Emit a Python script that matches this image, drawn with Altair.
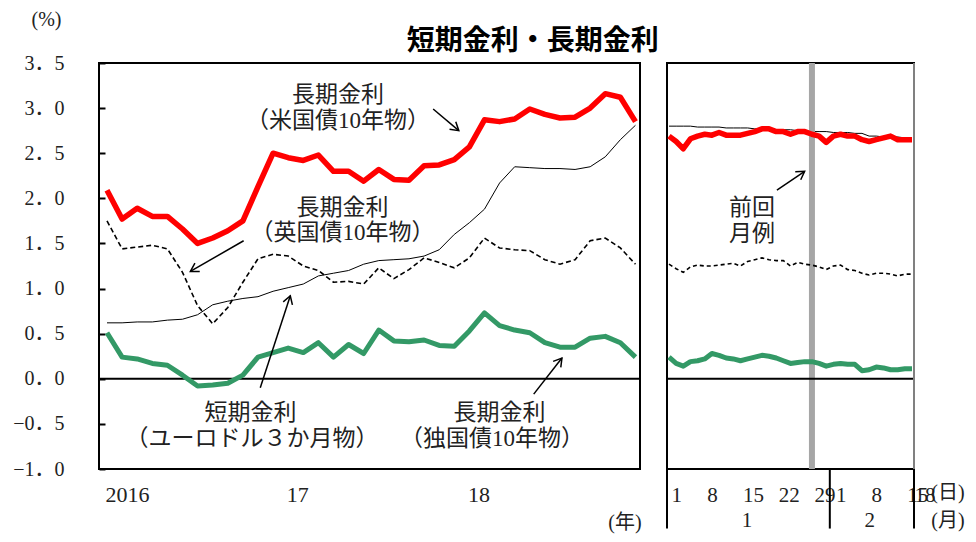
import math
import altair as alt
import pandas as pd

# ---------------- data ----------------
# monthly averages, Jan 2016 .. Dec 2018 (index 0..35)
month_idx = list(range(36))
us10_m = [2.09, 1.77, 1.89, 1.80, 1.80, 1.66, 1.50, 1.56, 1.64, 1.75, 2.13, 2.50,
          2.45, 2.42, 2.48, 2.30, 2.30, 2.19, 2.32, 2.21, 2.20, 2.36, 2.37, 2.43,
          2.57, 2.87, 2.85, 2.88, 2.99, 2.93, 2.89, 2.90, 3.00, 3.16, 3.12, 2.85]
uk10_m = [1.75, 1.44, 1.46, 1.48, 1.44, 1.18, 0.81, 0.61, 0.79, 1.07, 1.33, 1.38,
          1.36, 1.25, 1.20, 1.07, 1.08, 1.05, 1.23, 1.11, 1.21, 1.34, 1.29, 1.23,
          1.34, 1.56, 1.45, 1.43, 1.42, 1.32, 1.27, 1.32, 1.53, 1.56, 1.45, 1.27]
ed3m_m = [0.62, 0.62, 0.63, 0.63, 0.65, 0.66, 0.71, 0.82, 0.86, 0.89, 0.91, 0.97,
          1.01, 1.05, 1.14, 1.17, 1.20, 1.27, 1.31, 1.32, 1.33, 1.36, 1.43, 1.60,
          1.73, 1.88, 2.17, 2.35, 2.34, 2.33, 2.33, 2.32, 2.35, 2.46, 2.65, 2.81]
de10_m = [0.51, 0.24, 0.22, 0.17, 0.15, 0.04, -0.08, -0.07, -0.05, 0.04, 0.24, 0.29,
          0.34, 0.29, 0.40, 0.24, 0.38, 0.28, 0.54, 0.42, 0.41, 0.43, 0.37, 0.36,
          0.53, 0.73, 0.59, 0.54, 0.51, 0.40, 0.35, 0.35, 0.45, 0.47, 0.40, 0.24]
year_pos = [0, 12, 24]
year_labels = ["2016", "17", "18"]

# daily, business days Jan 1 .. Feb 18 2019 (index 0..34)
day_idx = list(range(35))
us10_d = [2.69, 2.63, 2.55, 2.66, 2.69, 2.71, 2.70, 2.73, 2.70, 2.70, 2.70, 2.72,
          2.74, 2.77, 2.77, 2.74, 2.74, 2.71, 2.74, 2.74, 2.71, 2.69, 2.62, 2.69,
          2.71, 2.69, 2.69, 2.65, 2.63, 2.65, 2.67, 2.69, 2.65, 2.65, 2.65]
uk10_d = [1.27, 1.22, 1.18, 1.24, 1.26, 1.25, 1.25, 1.26, 1.27, 1.28, 1.25, 1.30,
          1.32, 1.34, 1.32, 1.31, 1.31, 1.25, 1.29, 1.27, 1.26, 1.24, 1.21, 1.25,
          1.26, 1.21, 1.20, 1.17, 1.15, 1.17, 1.17, 1.16, 1.14, 1.16, 1.16]
ed3m_d = [2.80, 2.80, 2.80, 2.80, 2.79, 2.79, 2.79, 2.79, 2.78, 2.78, 2.78, 2.78,
          2.77, 2.77, 2.77, 2.76, 2.76, 2.76, 2.75, 2.75, 2.74, 2.74, 2.74, 2.73,
          2.73, 2.73, 2.72, 2.72, 2.69, 2.69, 2.68, 2.68, 2.68, 2.67, 2.64]
de10_d = [0.24, 0.17, 0.14, 0.19, 0.20, 0.22, 0.28, 0.26, 0.23, 0.22, 0.20, 0.22,
          0.24, 0.26, 0.25, 0.23, 0.20, 0.17, 0.18, 0.19, 0.19, 0.17, 0.14, 0.16,
          0.17, 0.16, 0.16, 0.09, 0.10, 0.13, 0.12, 0.10, 0.10, 0.11, 0.11]
day_tick_pos = [0, 5, 10, 15, 20, 23, 28, 33, 34]
day_tick_labels = ["1", "8", "15", "22", "29", "1", "8", "15", "18"]
month_label_pos = [10.9, 28.1]
month_labels = ["1", "2"]
prev_report_idx = 20      # 前回月例
month_split_idx = 22.5    # boundary Jan / Feb

y_ticks = [-1.0, -0.5, 0.0, 0.5, 1.0, 1.5, 2.0, 2.5, 3.0, 3.5]

# annotations (data coordinates)
ann_left_x = [15.3, 15.3, 15.6, 15.6, 9.5, 9.6, 26.0, 25.5]
ann_left_y = [3.14, 2.86, 1.89, 1.62, -0.38, -0.67, -0.38, -0.67]
ann_left_t = ["長期金利", "（米国債10年物）", "長期金利", "（英国債10年物）",
              "短期金利", "（ユーロドル３か月物）", "長期金利", "（独国債10年物）"]
arr_left = [  # x1, y1, x2, y2
    (21.6, 2.99, 23.3, 2.75),
    (9.05, 1.53, 5.52, 1.19),
    (10.15, -0.10, 12.14, 0.92),
    (28.26, -0.17, 30.13, 0.23),
]
ann_right_x = [11.6, 11.6]
ann_right_y = [1.89, 1.61]
ann_right_t = ["前回", "月例"]
arr_right = [(15.1, 2.09, 18.98, 2.30)]

# ---------------- geometry ----------------
W_L, W_R, H = 541, 247, 406
XL = [-0.53, 35.3]
XR = [-0.28, 34.28]
YD = [-1.0, 3.5]
kxL = W_L / (XL[1] - XL[0])
kxR = W_R / (XR[1] - XR[0])
ky = H / (YD[1] - YD[0])

SERIF = "Liberation Serif, Noto Sans CJK JP"
CJK = "Liberation Serif, Noto Sans CJK JP"
TXT = "#222222"

y_axis_L = alt.Axis(values=y_ticks,
                    labelExpr="replace(format(datum.value, '.1f'), '.', '．')",
                    tickSize=6, tickWidth=2, tickColor="black", offset=-6,
                    domain=False, grid=False, labelPadding=35,
                    labelFont=SERIF, labelFontSize=20, labelColor=TXT,
                    title="(%)", titleAngle=0, titleX=-59, titleY=-44,
                    titleAlign="center", titleBaseline="middle", titleFont=SERIF,
                    titleFontSize=20, titleFontWeight="normal", titleColor=TXT)


def label_expr(pos, labs):
    parts = [f"datum.value == {p} ? '{l}'" for p, l in zip(pos, labs)]
    return " : ".join(parts) + " : ''"


x_axis_L = alt.Axis(values=year_pos, labelExpr=label_expr(year_pos, year_labels),
                    labelAlign="left", labelOffset=-2, ticks=False, tickSize=0,
                    domain=False, grid=False, labelPadding=15, labelFont=SERIF,
                    labelFontSize=22, labelColor=TXT, labelOverlap=False,
                    labelFlush=False, labelBound=False, title=None)
x_axis_R = alt.Axis(values=day_tick_pos, labelExpr=label_expr(day_tick_pos, day_tick_labels),
                    labelAlign="left", labelOffset=2, ticks=False, tickSize=0,
                    domain=False, grid=False, labelPadding=15, labelFont=SERIF,
                    labelFontSize=21, labelColor=TXT, labelOverlap=False,
                    labelFlush=False, labelBound=False, title=None)
y_axis_R = alt.Axis(labels=False, ticks=False, domain=False, grid=False, title=None)


def make_enc(dom, xaxis, yaxis):
    def X(field):
        return alt.X(f"{field}:Q", scale=alt.Scale(domain=dom, nice=False, zero=False),
                     axis=xaxis)

    def Y(field):
        return alt.Y(f"{field}:Q", scale=alt.Scale(domain=YD, nice=False, zero=False),
                     axis=yaxis)
    return X, Y


XLf, YLf = make_enc(XL, x_axis_L, y_axis_L)
XRf, YRf = make_enc(XR, x_axis_R, y_axis_R)


def arrow_layers(arrs, Xf, Yf, kx):
    rows = []
    for x1, y1, x2, y2 in arrs:
        dx = (x2 - x1) * kx
        dy = -(y2 - y1) * ky
        ang = math.degrees(math.atan2(dy, dx)) % 360
        rows.append({"x1": x1, "y1": y1, "x2": x2, "y2": y2, "ang": ang})
    df = pd.DataFrame(rows)
    line = alt.Chart(df).mark_rule(color="black", strokeWidth=1.5).encode(
        x=Xf("x1"), x2="x2:Q", y=Yf("y1"), y2="y2:Q")
    head = alt.Chart(df).mark_point(
        shape="M -1 -0.6 L 0 0 L -1 0.6", filled=False, stroke="black",
        strokeWidth=1.5, size=260, opacity=1).encode(
        x=Xf("x2"), y=Yf("y2"), angle=alt.Angle("ang:Q", scale=None))
    return [line, head]


# ---------------- left panel ----------------
dfL = pd.DataFrame({"idx": month_idx, "us": us10_m, "uk": uk10_m,
                    "ed": ed3m_m, "de": de10_m})

zeroL = alt.Chart(pd.DataFrame({"idx": [XL[0]], "idx2": [XL[1]], "z": [0.0]})).mark_rule(
    color="black", strokeWidth=2).encode(x=XLf("idx"), x2="idx2:Q", y=YLf("z"))
ed_L = alt.Chart(dfL).mark_line(color="black", strokeWidth=1).encode(
    x=XLf("idx"), y=YLf("ed"))
uk_L = alt.Chart(dfL).mark_line(color="black", strokeWidth=1.6, strokeDash=[5, 3]).encode(
    x=XLf("idx"), y=YLf("uk"))
de_L = alt.Chart(dfL).mark_line(color="#339966", strokeWidth=5, strokeJoin="round").encode(
    x=XLf("idx"), y=YLf("de"))
us_L = alt.Chart(dfL).mark_line(color="#ff0000", strokeWidth=5.5, strokeJoin="round").encode(
    x=XLf("idx"), y=YLf("us"))

annL = pd.DataFrame({"x": ann_left_x, "y": ann_left_y, "t": ann_left_t})
textL = alt.Chart(annL).mark_text(font=CJK, fontSize=23, color=TXT,
                                  align="center", baseline="middle").encode(
    x=XLf("x"), y=YLf("y"), text="t:N")

titleL = alt.Chart(pd.DataFrame({"x": [28.2], "y": [3.73], "t": ["短期金利・長期金利"]})).mark_text(
    font="Noto Sans CJK JP", fontSize=28, fontWeight="bold", color="black",
    align="center", baseline="middle").encode(x=XLf("x"), y=YLf("y"), text="t:N")

yearUnit = alt.Chart(pd.DataFrame({"x": [33.2], "y": [-1.60], "t": ["(年)"]})).mark_text(
    font=CJK, fontSize=20, color=TXT, align="left", baseline="middle").encode(
    x=XLf("x"), y=YLf("y"), text="t:N")

left = alt.layer(ed_L, zeroL, uk_L, de_L, us_L, textL, titleL, yearUnit,
                 *arrow_layers(arr_left, XLf, YLf, kxL)).properties(width=W_L, height=H)

# ---------------- right panel ----------------
dfR = pd.DataFrame({"idx": day_idx, "us": us10_d, "uk": uk10_d,
                    "ed": ed3m_d, "de": de10_d})

grayR = alt.Chart(pd.DataFrame({"x": [prev_report_idx], "y1": [YD[0]], "y2": [YD[1]]})).mark_rule(
    color="#a6a6a6", strokeWidth=6).encode(x=XRf("x"), y=YRf("y1"), y2="y2:Q")
zeroR = alt.Chart(pd.DataFrame({"idx": [XR[0]], "idx2": [XR[1]], "z": [0.0]})).mark_rule(
    color="black", strokeWidth=2).encode(x=XRf("idx"), x2="idx2:Q", y=YRf("z"))
ed_R = alt.Chart(dfR).mark_line(color="black", strokeWidth=1).encode(
    x=XRf("idx"), y=YRf("ed"))
uk_R = alt.Chart(dfR).mark_line(color="black", strokeWidth=1.6, strokeDash=[4, 3]).encode(
    x=XRf("idx"), y=YRf("uk"))
de_R = alt.Chart(dfR).mark_line(color="#339966", strokeWidth=5, strokeJoin="round").encode(
    x=XRf("idx"), y=YRf("de"))
us_R = alt.Chart(dfR).mark_line(color="#ff0000", strokeWidth=5.5, strokeJoin="round").encode(
    x=XRf("idx"), y=YRf("us"))

borderR = alt.Chart(pd.DataFrame({"x": [XR[1]], "y1": [YD[0]], "y2": [YD[1]]})).mark_rule(
    color="#808080", strokeWidth=2).encode(x=XRf("x"), y=YRf("y1"), y2="y2:Q")

tableR = alt.Chart(pd.DataFrame({"x": [XR[0], month_split_idx, XR[1]],
                                 "y1": [YD[0]] * 3, "y2": [-1.66] * 3})).mark_rule(
    color="black", strokeWidth=2).encode(x=XRf("x"), y=YRf("y1"), y2="y2:Q")

monthTxt = alt.Chart(pd.DataFrame({"x": month_label_pos, "y": [-1.58, -1.58],
                                   "t": month_labels})).mark_text(
    font=SERIF, fontSize=21, color=TXT, align="center", baseline="middle").encode(
    x=XRf("x"), y=YRf("y"), text="t:N")

unitTxt = alt.Chart(pd.DataFrame({"x": [36.7, 36.7], "y": [-1.27, -1.58],
                                  "t": ["(日)", "(月)"]})).mark_text(
    font=CJK, fontSize=20, color=TXT, align="left", baseline="middle").encode(
    x=XRf("x"), y=YRf("y"), text="t:N")

annR = pd.DataFrame({"x": ann_right_x, "y": ann_right_y, "t": ann_right_t})
textR = alt.Chart(annR).mark_text(font=CJK, fontSize=23, color=TXT,
                                  align="center", baseline="middle").encode(
    x=XRf("x"), y=YRf("y"), text="t:N")

right = alt.layer(ed_R, grayR, zeroR, uk_R, de_R, us_R, borderR, tableR,
                  monthTxt, unitTxt, textR,
                  *arrow_layers(arr_right, XRf, YRf, kxR)).properties(width=W_R, height=H)

chart = alt.hconcat(left, right, spacing=27, bounds="flush").configure_view(
    stroke="black", strokeWidth=2).properties(
    padding={"left": 3, "top": 0, "right": 0, "bottom": 0}, background="white")

chart.save("out.html", embed_options={"renderer": "svg", "actions": False})
